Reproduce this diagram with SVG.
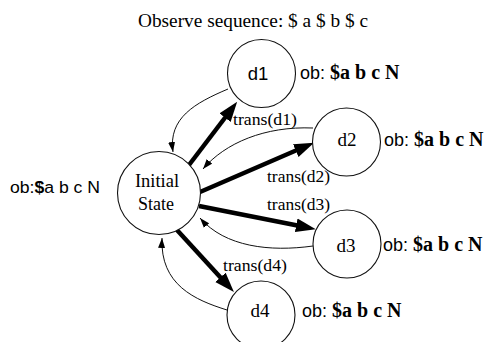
<svg xmlns="http://www.w3.org/2000/svg" width="489" height="342" viewBox="0 0 489 342">
<style>
.node circle{fill:#fff;stroke:#111;stroke-width:1.1}
.serif{font-family:"Liberation Serif","Times New Roman",serif;fill:#000}
.sans{font-family:"Liberation Sans",Arial,sans-serif;fill:#000}
.thick{fill:none;stroke:#000;stroke-width:4.5}
.thin{fill:none;stroke:#111;stroke-width:1}
.b{font-family:"Liberation Serif","Times New Roman",serif;font-weight:bold}
</style>
<defs>
<marker id="big" markerUnits="userSpaceOnUse" markerWidth="21" markerHeight="15" refX="9" refY="7.5" orient="auto">
<path d="M0,0.5 L20,7.5 L0,14.5 z" fill="#000"/>
</marker>
<marker id="small" markerUnits="userSpaceOnUse" markerWidth="11" markerHeight="8" refX="10" refY="4" orient="auto">
<path d="M0,0.5 L10,4 L0,7.5 z" fill="#000"/>
</marker>
</defs>
<rect width="489" height="342" fill="#fff"/>
<text class="serif" x="138" y="27" font-size="19" textLength="230" lengthAdjust="spacingAndGlyphs">Observe sequence: $ a $ b $ c</text>
<text class="sans" x="10" y="193" font-size="16" textLength="90" lengthAdjust="spacingAndGlyphs">ob:<tspan font-weight="bold">$</tspan>a b c N</text>
<g id="connectors">
<path class="thick" d="M189,165 L230.5,110.5" marker-end="url(#big)"/>
<path class="thick" d="M200,192 L304,147" marker-end="url(#big)"/>
<path class="thick" d="M199,206 L305,227" marker-end="url(#big)"/>
<path class="thick" d="M177,230 L226.5,284" marker-end="url(#big)"/>
<path class="thin" d="M228,89 C195,103 168,118 173,152" marker-end="url(#small)"/>
<path class="thin" d="M313,128 C265,126 225,143 203,169" marker-end="url(#small)"/>
<path class="thin" d="M313,246 C270,252 225,247 200,218" marker-end="url(#small)"/>
<path class="thin" d="M227,310 C195,300 160,285 162,238" marker-end="url(#small)"/>
<text class="serif" x="233" y="125" font-size="17" textLength="64" lengthAdjust="spacingAndGlyphs">trans(d1)</text>
<text class="serif" x="267" y="182" font-size="17" textLength="63" lengthAdjust="spacingAndGlyphs">trans(d2)</text>
<text class="serif" x="267" y="210" font-size="17" textLength="63" lengthAdjust="spacingAndGlyphs">trans(d3)</text>
<text class="serif" x="223" y="271" font-size="17" textLength="64" lengthAdjust="spacingAndGlyphs">trans(d4)</text>
</g>
<g id="initial" class="node">
<circle cx="159" cy="193" r="41.5"/>
<text class="serif" x="157" y="187" font-size="18.5" text-anchor="middle">Initial</text>
<text class="serif" x="156" y="210" font-size="18" text-anchor="middle">State</text>
</g>
<g id="d1" class="node">
<circle cx="261.5" cy="73.5" r="34"/>
<text class="sans" x="258" y="80" font-size="18.5" text-anchor="middle">d1</text>
<text class="sans" x="300" y="79" font-size="18">ob: <tspan class="b" font-size="20">$a b c N</tspan></text>
</g>
<g id="d2" class="node">
<circle cx="346.5" cy="142" r="34"/>
<text class="serif" x="347" y="146" font-size="19" text-anchor="middle">d2</text>
<text class="sans" x="384" y="146" font-size="18">ob: <tspan class="b" font-size="20">$a b c N</tspan></text>
</g>
<g id="d3" class="node">
<circle cx="347" cy="244" r="34"/>
<text class="serif" x="346" y="252" font-size="19" text-anchor="middle">d3</text>
<text class="sans" x="383" y="251" font-size="18">ob: <tspan class="b" font-size="20">$a b c N</tspan></text>
</g>
<g id="d4" class="node">
<circle cx="261" cy="315" r="34"/>
<text class="serif" x="260" y="317" font-size="19" text-anchor="middle">d4</text>
<text class="sans" x="302" y="317" font-size="18">ob: <tspan class="b" font-size="20">$a b c N</tspan></text>
</g>
</svg>
